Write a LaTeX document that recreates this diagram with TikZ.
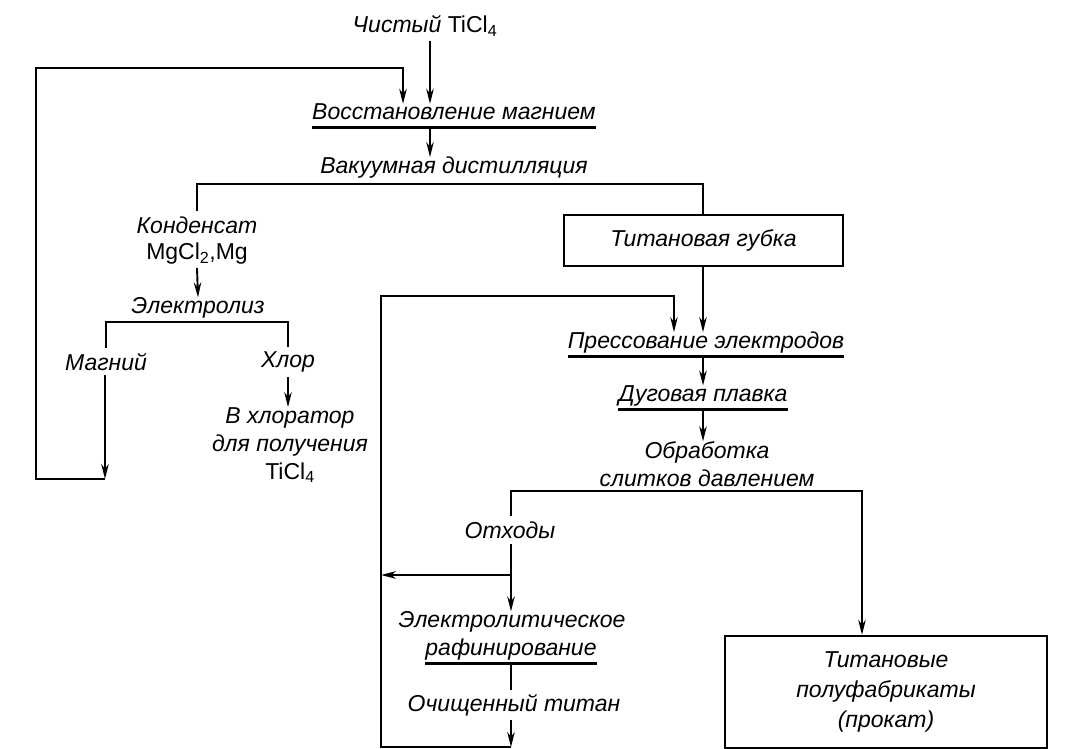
\documentclass[tikz,border=0pt]{standalone}
\usepackage{fontspec}
\setmainfont{Liberation Sans}
\usetikzlibrary{arrows.meta}
\begin{document}
\begin{tikzpicture}[x=1pt,y=-1pt,
  lbl/.style={font=\fontsize{23}{28}\selectfont\itshape, inner sep=0pt, align=center},
  arr/.style={-{Stealth[length=15pt,width=7.5pt]}, line width=1.9pt},
  ln/.style={line width=1.9pt},
  ul/.style={line width=3pt},
  boxs/.style={draw, line width=2.4pt, inner sep=0pt, font=\fontsize{23}{30}\selectfont\itshape, align=center}]
\useasboundingbox (0,0) rectangle (1090,749);
% column coordinates
\coordinate (cA) at (430,0);
\coordinate (cL) at (403,68);
\coordinate (cO) at (511,0);
\coordinate (cS) at (703,0);
\coordinate (cR) at (674,296);
% nodes
\node[lbl] (chist) at (425,26) {Чистый \textup{TiCl\textsubscript{4}}};
\node[lbl] (vosst) at (454,112) {Восстановление магнием};
\node[lbl] (vak) at (454,168) {Вакуумная дистилляция};
\node[boxs, minimum width=279pt, minimum height=51pt] (sponge) at (703.5,240.5) {Титановая губка};
\node[lbl] (kond) at (197,225) {Конденсат};
\node[lbl] (mgcl) at (197,254) {\upshape MgCl\textsubscript{2},Mg};
\node[lbl] (elz) at (198,308) {Электролиз};
\node[lbl] (mag) at (106,362) {Магний};
\node[lbl] (chl) at (288,362) {Хлор};
\node[lbl] (vchl) at (290,445) {В хлоратор\\для получения\\\upshape TiCl\textsubscript{4}};
\node[lbl] (press) at (706,343) {Прессование электродов};
\node[lbl] (dug) at (703,396) {Дуговая плавка};
\node[lbl] (obr) at (707,464) {Обработка\\слитков давлением};
\node[lbl] (otx) at (510,530) {Отходы};
\node[lbl] (elr1) at (512,622) {Электролитическое};
\node[lbl] (elr2) at (511,650) {рафинирование};
\node[lbl] (och) at (514,705) {Очищенный титан};
\node[boxs, minimum width=322pt, minimum height=112pt] (prok) at (886,692) {Титановые\\полуфабрикаты\\(прокат)};
% underlines
\draw[ul] ([yshift=-8pt]vosst.base west) -- ([yshift=-8pt]vosst.base east);
\draw[ul] ([yshift=-8pt]press.base west) -- ([yshift=-8pt]press.base east);
\draw[ul] ([yshift=-8pt]dug.base west) -- ([yshift=-8pt]dug.base east);
\draw[ul] ([yshift=-8pt]elr2.base west) -- ([yshift=-8pt]elr2.base east);
\coordinate (vu) at ([yshift=-9pt]vosst.base);
\coordinate (pu) at ([yshift=-9pt]press.base);
\coordinate (du) at ([yshift=-9pt]dug.base);
\coordinate (eu) at ([yshift=-9pt]elr2.base);
% top flow
\draw[arr] ([yshift=-4pt]chist.south -| cA) -- (vosst.north -| cA);
\draw[arr] (vu -| cA) -- (vak.north -| cA);
\coordinate (hR) at (703,184);
\draw[ln, shorten <=5pt] (kond.north) |- (hR) -- (sponge.north -| hR);
\draw[arr] ([yshift=-3pt]mgcl.south) -- (elz.north);
\coordinate (eb) at (198,322);
\draw[ln, shorten <=5pt, shorten >=5pt] (mag.north) |- (eb) -| (chl.north);
\draw[arr, shorten <=4pt] (chl.south) -- (vchl.north -| chl);
% magnesium recycle loop
\coordinate (mb) at (105,479);
\coordinate (lt) at (36,68);
\draw[arr, shorten <=4pt] (mag.south -| mb) -- (mb);
\draw[arr] (mb) -| (lt) -| (vosst.north -| cL);
% right flow
\draw[arr] (sponge.south -| cS) -- (press.north -| cS);
\draw[arr] (pu -| cS) -- (dug.north -| cS);
\draw[arr] (du -| cS) -- (obr.north -| cS);
\coordinate (oR) at (862,491);
\draw[arr, shorten <=5pt] (otx.north -| cO) |- (oR) -- (prok.north -| oR);
\draw[arr, shorten <=5pt] (otx.south -| cO) -- (elr1.north -| cO);
\coordinate (br) at (511,575);
\coordinate (l2) at (381,296);
\draw[arr] (br) -- (br -| l2);
\draw[ln, shorten >=4pt] (eu -| cO) -- (och.north -| cO);
\coordinate (ob) at (511,747);
\draw[arr, shorten <=4pt] (och.south -| cO) -- (ob);
\draw[arr] (ob) -| (l2) -| (press.north -| cR);
\end{tikzpicture}
\end{document}
